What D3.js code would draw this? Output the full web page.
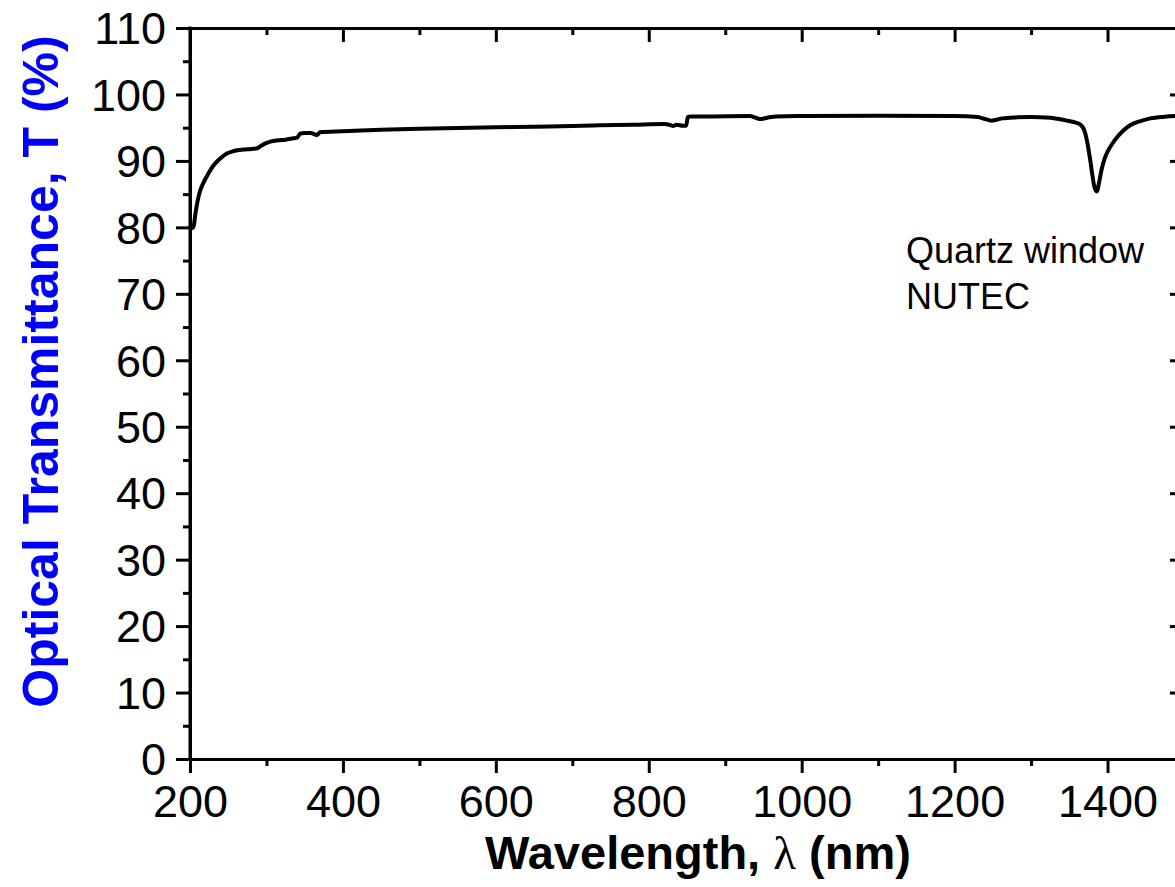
<!DOCTYPE html>
<html>
<head>
<meta charset="utf-8">
<script src="https://cdn.jsdelivr.net/npm/d3@7"></script>
<style>
  html, body { margin: 0; padding: 0; background: #fff; overflow: hidden; }
  svg { display: block; }
</style>
</head>
<body>
<svg id="chart" width="1175" height="887"></svg>
<script>
// ---- Data ----
const wavelength = [200, 203, 205, 207, 210, 213, 218, 224, 230, 237, 243, 248, 255, 262, 270, 280, 288, 292, 298, 305, 315, 325, 335, 340, 344, 350, 358, 363, 366, 370, 400, 450, 500, 550, 600, 650, 700, 736, 780, 820, 828, 832, 836, 845, 849, 851, 855, 880, 932, 940, 946, 955, 967, 1000, 1100, 1200, 1230, 1240, 1248, 1255, 1262, 1280, 1300, 1325, 1345, 1360, 1366, 1370, 1374, 1377, 1380, 1383, 1386, 1389, 1392, 1397, 1403, 1410, 1420, 1430, 1443, 1456, 1475, 1500];
const transmittance = [80.0, 79.9, 80.3, 82.0, 84.0, 85.4, 86.8, 88.1, 89.2, 90.1, 90.7, 91.1, 91.4, 91.6, 91.7, 91.8, 91.9, 92.2, 92.6, 92.9, 93.1, 93.2, 93.4, 93.5, 94.1, 94.2, 94.2, 94.0, 93.9, 94.3, 94.45, 94.7, 94.85, 94.95, 95.05, 95.15, 95.25, 95.35, 95.45, 95.55, 95.4, 95.25, 95.45, 95.3, 95.3, 96.6, 96.7, 96.7, 96.75, 96.5, 96.3, 96.5, 96.7, 96.75, 96.8, 96.75, 96.6, 96.3, 96.05, 96.2, 96.4, 96.55, 96.6, 96.5, 96.1, 95.7, 95.3, 94.5, 92.5, 90.4, 88.0, 86.0, 85.4, 86.8, 88.6, 90.6, 92.0, 93.2, 94.5, 95.4, 96.0, 96.4, 96.65, 96.8];

const xTicks = [200, 400, 600, 800, 1000, 1200, 1400];
const xMinorTicks = [300, 500, 700, 900, 1100, 1300, 1500];
const yTicks = [0, 10, 20, 30, 40, 50, 60, 70, 80, 90, 100, 110];
const yMinorTicks = [5, 15, 25, 35, 45, 55, 65, 75, 85, 95, 105];

const xTitle = "Wavelength, ";
const xTitleSymbol = "\u03BB";
const xTitleEnd = " (nm)";
const yTitle = "Optical Transmittance, T (%)";
const annotation = ["Quartz window", "NUTEC"];

// ---- Layout ----
const svg = d3.select("#chart");
const mLeft = 190, mRight = 1184, mTop = 28, mBottom = 759;
const x = d3.scaleLinear().domain([200, 1500]).range([mLeft, mRight]);
const y = d3.scaleLinear().domain([0, 110]).range([mBottom, mTop]);

const font = "'Liberation Sans', Arial, sans-serif";
const majorLen = 14, minorLen = 7, lw = 3;

function styleAxis(g) {
  g.selectAll("path.domain").attr("stroke", "#000").attr("stroke-width", lw);
  g.selectAll(".tick line").attr("stroke", "#000").attr("stroke-width", lw);
  g.selectAll("text").attr("font-family", font).attr("font-size", 45).attr("fill", "#000");
}

// Bottom axis
const gB = svg.append("g").attr("transform", `translate(0,${mBottom})`)
  .call(d3.axisBottom(x).tickValues(xTicks).tickSize(majorLen).tickSizeOuter(0).tickPadding(12).tickFormat(d3.format("d")));
styleAxis(gB);
svg.append("g").attr("transform", `translate(0,${mBottom})`)
  .call(d3.axisBottom(x).tickValues(xMinorTicks).tickSize(minorLen).tickSizeOuter(0).tickFormat(""))
  .call(g => { g.select(".domain").remove(); styleAxis(g); });

// Top axis (inward ticks)
const gT = svg.append("g").attr("transform", `translate(0,${mTop})`)
  .call(d3.axisBottom(x).tickValues(xTicks).tickSize(majorLen).tickSizeOuter(0).tickFormat(""));
styleAxis(gT);
svg.append("g").attr("transform", `translate(0,${mTop})`)
  .call(d3.axisBottom(x).tickValues(xMinorTicks).tickSize(minorLen).tickSizeOuter(0).tickFormat(""))
  .call(g => { g.select(".domain").remove(); styleAxis(g); });

// Left axis
const gL = svg.append("g").attr("transform", `translate(${mLeft},0)`)
  .call(d3.axisLeft(y).tickValues(yTicks).tickSize(majorLen).tickSizeOuter(0).tickPadding(10).tickFormat(d3.format("d")));
styleAxis(gL);
gL.selectAll("text").attr("dy", "0.35em");
svg.append("g").attr("transform", `translate(${mLeft},0)`)
  .call(d3.axisLeft(y).tickValues(yMinorTicks).tickSize(minorLen).tickSizeOuter(0).tickFormat(""))
  .call(g => { g.select(".domain").remove(); styleAxis(g); });

// Right axis (inward ticks)
const gR = svg.append("g").attr("transform", `translate(${mRight},0)`)
  .call(d3.axisLeft(y).tickValues(yTicks).tickSize(majorLen).tickSizeOuter(0).tickFormat(""));
styleAxis(gR);
svg.append("g").attr("transform", `translate(${mRight},0)`)
  .call(d3.axisLeft(y).tickValues(yMinorTicks).tickSize(minorLen).tickSizeOuter(0).tickFormat(""))
  .call(g => { g.select(".domain").remove(); styleAxis(g); });

// Left frame line extended so corners join cleanly
svg.append("line").attr("x1", mLeft).attr("x2", mLeft).attr("y1", mTop - lw/2).attr("y2", mBottom + lw/2)
  .attr("stroke", "#000").attr("stroke-width", lw);

// Data line
const pts = wavelength.map((w, i) => [w, transmittance[i]]);
const line = d3.line().x(d => x(d[0])).y(d => y(d[1])).curve(d3.curveMonotoneX);
svg.append("path").datum(pts).attr("d", line)
  .attr("fill", "none").attr("stroke", "#000").attr("stroke-width", 4)
  .attr("stroke-linejoin", "round").attr("stroke-linecap", "round");

// Annotation
svg.append("text").attr("x", 906).attr("y", 263)
  .attr("font-family", font).attr("font-size", 36).attr("fill", "#000").text(annotation[0]);
svg.append("text").attr("x", 906).attr("y", 309)
  .attr("font-family", font).attr("font-size", 36).attr("fill", "#000").text(annotation[1]);

// X title
const xt = svg.append("text").attr("x", 698).attr("y", 869)
  .attr("text-anchor", "middle").attr("font-family", font).attr("font-size", 47)
  .attr("font-weight", "bold").attr("fill", "#000");
xt.append("tspan").text(xTitle);
xt.append("tspan").attr("font-family", "'Liberation Serif', 'Times New Roman', serif").attr("font-weight", "normal").text(xTitleSymbol);
xt.append("tspan").text(xTitleEnd);

// Y title
svg.append("text")
  .attr("transform", `translate(58, ${(28 + 715) / 2}) rotate(-90)`)
  .attr("text-anchor", "middle").attr("font-family", font).attr("font-size", 50)
  .attr("font-weight", "bold").attr("fill", "#0000ff").text(yTitle);
</script>
</body>
</html>
